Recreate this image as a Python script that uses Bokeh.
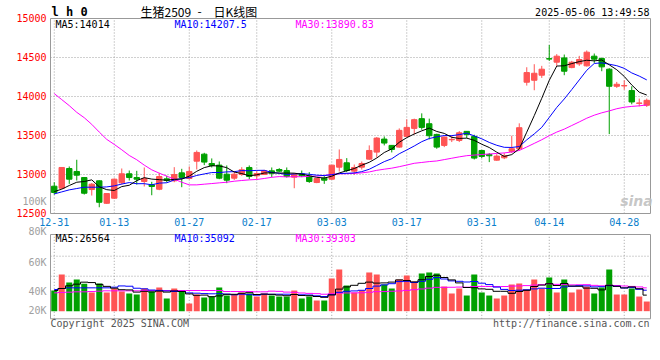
import numpy as np
import pandas as pd
from bokeh.plotting import figure
from bokeh.models import Range1d, ColumnDataSource
from bokeh.core.properties import value
from bokeh.embed import file_html
from bokeh.resources import INLINE

# ---------------- data ----------------
dates = ["12-31",
         "01-02", "01-03", "01-06", "01-07", "01-08", "01-09", "01-10", "01-13", "01-14", "01-15",
         "01-16", "01-17", "01-20", "01-21", "01-22", "01-23", "01-24", "01-27",
         "02-05", "02-06", "02-07", "02-10", "02-11", "02-12", "02-13", "02-14", "02-17", "02-18",
         "02-19", "02-20", "02-21", "02-24", "02-25", "02-26", "02-27", "02-28",
         "03-03", "03-04", "03-05", "03-06", "03-07", "03-10", "03-11", "03-12", "03-13", "03-14",
         "03-17", "03-18", "03-19", "03-20", "03-21", "03-24", "03-25", "03-26", "03-27", "03-28",
         "03-31", "04-01", "04-02", "04-03", "04-07", "04-08", "04-09", "04-10", "04-11",
         "04-14", "04-15", "04-16", "04-17", "04-18", "04-21", "04-22", "04-23", "04-24", "04-25",
         "04-28", "04-29", "04-30", "05-06"]

open_ = [12850, 12824, 13077, 13039, 12961, 12807, 12919, 12631, 12696, 12893,
         13009, 12961, 12910, 12867, 12811, 12944, 12919, 13021, 12949, 13171,
         13261, 13141, 13120, 13004, 12953, 13000, 13090, 12983, 13000, 13047,
         13064, 13051, 12966, 13009, 12979, 12897, 12953, 12940, 13094, 13150,
         13043, 13094, 13197, 13287, 13454, 13373, 13351, 13488, 13591, 13716,
         13651, 13514, 13373, 13445, 13437, 13553, 13488, 13308, 13257, 13184,
         13214, 13296, 13330, 14183, 14208, 14273, 14485, 14440, 14495, 14371,
         14418, 14393, 14517, 14487, 14350, 14131, 14136, 14076, 13912, 13887]
high = [12901, 13094, 13103, 13189, 12965, 12889, 12925, 12760, 12949, 13077,
        13051, 13047, 13090, 12906, 13021, 12983, 13094, 13073, 13103, 13308,
        13278, 13206, 13167, 13116, 13043, 13094, 13116, 13043, 13060, 13090,
        13081, 13090, 13017, 13051, 13030, 12953, 12979, 13120, 13321, 13210,
        13128, 13167, 13373, 13480, 13488, 13373, 13591, 13707, 13716, 13784,
        13716, 13523, 13488, 13501, 13557, 13553, 13510, 13317, 13274, 13261,
        13274, 13497, 13656, 14375, 14414, 14393, 14660, 14543, 14538, 14457,
        14521, 14590, 14551, 14500, 14363, 14187, 14208, 14131, 13973, 13973]
low = [12743, 12815, 12880, 12923, 12743, 12730, 12580, 12622, 12687, 12871,
       12923, 12871, 12846, 12734, 12799, 12900, 12901, 12837, 12936, 13064,
       13120, 13090, 12940, 12889, 12931, 12983, 12940, 12940, 12994, 12966,
       13030, 12961, 12824, 12966, 12893, 12889, 12880, 12931, 13039, 13030,
       12996, 13064, 13188, 13218, 13373, 13283, 13343, 13488, 13514, 13574,
       13450, 13330, 13351, 13416, 13416, 13467, 13193, 13210, 13159, 13176,
       13197, 13274, 13308, 14140, 14080, 14238, 14457, 14393, 14273, 14362,
       14393, 14384, 14431, 14324, 13518, 14110, 14088, 13900, 13874, 13866]
close = [12769, 13090, 12940, 12991, 12760, 12876, 12644, 12756, 12940, 13009,
         12961, 12940, 12949, 12846, 12974, 12923, 13000, 12961, 13039, 13283,
         13159, 13116, 12953, 12927, 13004, 13060, 12974, 13013, 13047, 13017,
         13043, 12974, 13004, 12983, 12910, 12949, 12927, 13120, 13193, 13051,
         13090, 13141, 13308, 13467, 13403, 13321, 13566, 13604, 13703, 13604,
         13497, 13351, 13480, 13450, 13535, 13514, 13210, 13231, 13240, 13236,
         13240, 13330, 13600, 14307, 14298, 14350, 14480, 14517, 14324, 14440,
         14474, 14568, 14478, 14380, 14131, 14157, 14140, 13930, 13917, 13951]
volume_k = [34.7, 61.6, 48.2, 53.2, 45.9, 31.4, 46.5, 31.4, 38.1, 33.0,
            29.7, 28.0, 38.1, 33.0, 39.8, 21.3, 38.1, 33.0, 12.9, 28.0,
            23.0, 24.6, 39.8, 26.3, 28.0, 31.4, 29.7, 24.6, 29.7, 26.3,
            24.6, 24.6, 34.7, 21.3, 24.6, 17.9, 17.9, 54.9, 70.0, 43.1,
            31.4, 34.7, 65.0, 61.6, 44.8, 38.1, 53.2, 59.9, 49.8, 63.3,
            65.0, 63.3, 41.4, 29.7, 38.1, 26.3, 61.6, 31.4, 26.3, 21.3,
            26.3, 44.8, 46.5, 36.4, 53.2, 38.1, 56.6, 31.4, 53.2, 31.4,
            36.4, 41.4, 29.7, 39.8, 70.0, 28.0, 28.0, 38.1, 24.6, 16.2]

# moving-average values before enough visible history exists
ma5_head = [12781, 12812, 12859, 12901]
ma10_head = [12751, 12777, 12803, 12820, 12837, 12837, 12837, 12841, 12854]
ma30_head = [14037, 13960, 13883, 13797, 13728, 13643, 13544, 13450, 13386, 13317,
             13244, 13189, 13120, 13060, 13017, 12979, 12940, 12901, 12867, 12867,
             12876, 12884, 12893, 12901, 12914, 12923, 12931, 12936, 12949]
vol_ma5_head = [34.7, 38.1, 42.6, 45.4]
vol_ma10_head = [36.4, 38.1, 39.2, 39.2, 39.2, 39.2, 39.2, 39.2, 40.3]
vol_ma30_head = [30.8, 31.4, 31.9, 32.5, 32.5, 33.0, 33.6, 34.2, 34.2, 34.2,
                 34.2, 34.2, 34.7, 34.7, 34.7, 34.7, 34.7, 34.7, 34.7, 34.7,
                 34.7, 34.7, 34.7, 33.0, 33.0, 33.0, 33.0, 32.5, 32.5]

tick_dates = ["12-31", "01-13", "01-27", "02-17", "03-03", "03-17", "03-31", "04-14", "04-28"]
price_ticks = [12500, 13000, 13500, 14000, 14500, 15000]
price_grid = [13000, 13500, 14000, 14500]
vol_tick_labels = ["100K", "80K", "60K", "40K", "20K"]

title_code = "l h 0"
title_parts = ["生猪2509", "-", "日K线图"]
timestamp = "2025-05-06 13:49:58"
ma_price_text = ["MA5:14014", "MA10:14207.5", "MA30:13890.83"]
ma_vol_text = ["MA5:26564", "MA10:35092", "MA30:39303"]
copyright_text = "Copyright 2025 SINA.COM"
url_text = "http://finance.sina.com.cn"

# ---------------- layout geometry (canvas pixels) ----------------
W, H = 656, 336
PANEL_L, PANEL_R = 50, 650
PRICE_TOP_PX, PRICE_BOT_PX = 18, 213
PRICE_MIN, PRICE_MAX = 12500, 15000
VOL_TOP_PX, VOL_BOT_PX = 234, 318.3
VOL_BASE_PX = 310.67
VOL_PER_PX = 1680.0

n = len(close)
slot = (PANEL_R - PANEL_L) / n
ppx = (PRICE_BOT_PX - PRICE_TOP_PX) / (PRICE_MAX - PRICE_MIN)


def px_x(px):
    return (px - PANEL_L) / slot - 0.5


def px_price(py):
    return PRICE_MAX - (py - PRICE_TOP_PX) / ppx


def px_vol(py):
    return (VOL_BASE_PX - py) * VOL_PER_PX


RED = "#ff5454"
GREEN = "#00a000"
GRID = "#a0a0a0"
BORDER = "#999999"
MONO = "DejaVu Sans Mono"
CJK = "Noto Sans CJK SC"

idx = np.arange(n)
o = np.array(open_, float)
c = np.array(close, float)
vol = np.array(volume_k) * 1000.0


def moving(vals, win, head):
    m = pd.Series(vals, dtype=float).rolling(win).mean().to_numpy()
    m[:win - 1] = head
    return m


ma5 = moving(close, 5, ma5_head)
ma10 = moving(close, 10, ma10_head)
ma30 = moving(close, 30, ma30_head)
vma5 = moving(vol, 5, np.array(vol_ma5_head) * 1000)
vma10 = moving(vol, 10, np.array(vol_ma10_head) * 1000)
vma30 = moving(vol, 30, np.array(vol_ma30_head) * 1000)

colors = np.where(c >= o, RED, GREEN)
src = ColumnDataSource(dict(x=idx, high=high, low=low,
                            top=np.maximum(o, c), bottom=np.minimum(o, c),
                            vol=vol, color=colors))
tick_idx = [dates.index(d) for d in tick_dates]

vol_panel_min, vol_panel_max = px_vol(VOL_BOT_PX), px_vol(VOL_TOP_PX)

p = figure(width=W, height=H, output_backend="svg", toolbar_location=None, title=None,
           x_range=Range1d(px_x(0), px_x(W)), y_range=Range1d(px_price(H), px_price(0)),
           x_axis_location=None, y_axis_location=None, min_border=0)
p.extra_y_ranges = {"vol": Range1d(px_vol(H), px_vol(0))}
p.grid.visible = False
p.outline_line_color = None
p.background_fill_color = "white"
p.border_fill_color = "white"

# ---- grid lines (dotted) ----
xl, xr = -0.5, n - 0.5
p.segment(x0=tick_idx, x1=tick_idx, y0=PRICE_MIN, y1=PRICE_MAX,
          line_color=GRID, line_dash="1 2", line_width=1)
p.segment(x0=xl, x1=xr, y0=price_grid, y1=price_grid,
          line_color=GRID, line_dash="1 2", line_width=1)
vol_grid = [px_vol(255.7), px_vol(275.7)]
p.segment(x0=tick_idx, x1=tick_idx, y0=vol_panel_min, y1=vol_panel_max,
          line_color=GRID, line_dash="1 2", line_width=1, y_range_name="vol")
p.segment(x0=xl, x1=xr, y0=vol_grid, y1=vol_grid,
          line_color=GRID, line_dash="1 2", line_width=1, y_range_name="vol")

# ---- candles ----
p.segment(x0="x", y0="low", x1="x", y1="high", color="color", line_width=1, source=src)
p.vbar(x="x", width=0.72, top="top", bottom="bottom", fill_color="color",
       line_color="color", line_width=1, source=src)
p.line(idx, ma30, color="#ff00ff", line_width=1)
p.line(idx, ma10, color="#0000ff", line_width=1)
p.line(idx, ma5, color="#000000", line_width=1)

# ---- volume ----
p.vbar(x="x", width=0.8, top="vol", bottom=0, fill_color="color", line_color=None,
       source=src, y_range_name="vol")
p.step(idx, vma30, mode="center", color="#ff00ff", line_width=1, y_range_name="vol")
p.step(idx, vma10, mode="center", color="#0000ff", line_width=1, y_range_name="vol")
p.step(idx, vma5, mode="center", color="#000000", line_width=1, y_range_name="vol")

# ---- panel borders ----
p.quad(left=xl, right=xr, bottom=PRICE_MIN, top=PRICE_MAX, fill_color=None,
       line_color=BORDER, line_width=1)
p.quad(left=xl, right=xr, bottom=vol_panel_min, top=vol_panel_max, fill_color=None,
       line_color=BORDER, line_width=1, y_range_name="vol")


def txt(x, y, texts, color, size="10px", font=MONO, align="left", style="normal",
        rng="default", x_offset=0, y_offset=0, alpha=1.0):
    k = len(texts)
    xs = list(x) if hasattr(x, "__len__") else [x] * k
    ys = list(y) if hasattr(y, "__len__") else [y] * k
    p.text(x=xs, y=ys, text=texts, text_color=color, text_font=value(font),
           text_font_size=size, text_align=align, text_baseline="middle",
           text_font_style=style, x_offset=x_offset, y_offset=y_offset,
           text_alpha=alpha, y_range_name=rng)


# axis labels
txt(xl, price_ticks, [str(t) for t in price_ticks], "#ff0000", align="right",
    x_offset=-4, y_offset=-1)
txt(tick_idx, px_price(221.3), tick_dates, "#0a80cc", align="center")
vol_label_py = [201, 231, 262, 291, 310]
txt(xl, [px_vol(v) for v in vol_label_py], vol_tick_labels, "#a0a0a0", align="right",
    x_offset=-4, rng="vol")

# header
txt(xl, px_price(11), [title_code], "#000000", size="12px", style="bold", x_offset=1)
txt([px_x(v) for v in (140, 197, 213)], px_price(11), title_parts, "#000000",
    size="12px", font=CJK, align="left")
txt(px_x(649), px_price(11.5), [timestamp], "#000000", align="right")

# MA legends
ma_cols = ["#000000", "#0000ff", "#ff00ff"]
ma_px = [55, 174, 295]
txt([px_x(v) for v in ma_px], px_price(23.5), ma_price_text, ma_cols)
txt([px_x(v) for v in ma_px], px_vol(238), ma_vol_text, ma_cols, rng="vol")

# footer
txt(xl, px_vol(323.3), [copyright_text], "#555555", rng="vol")
txt(px_x(649), px_vol(323.3), [url_text], "#555555", align="right", rng="vol")

# watermark
txt(px_x(636), px_price(200), ["sina"], "#c0c0c0", size="14px", font="DejaVu Sans",
    style="bold italic", align="center", alpha=0.9)

open("out.html", "w").write(file_html(p, INLINE))
